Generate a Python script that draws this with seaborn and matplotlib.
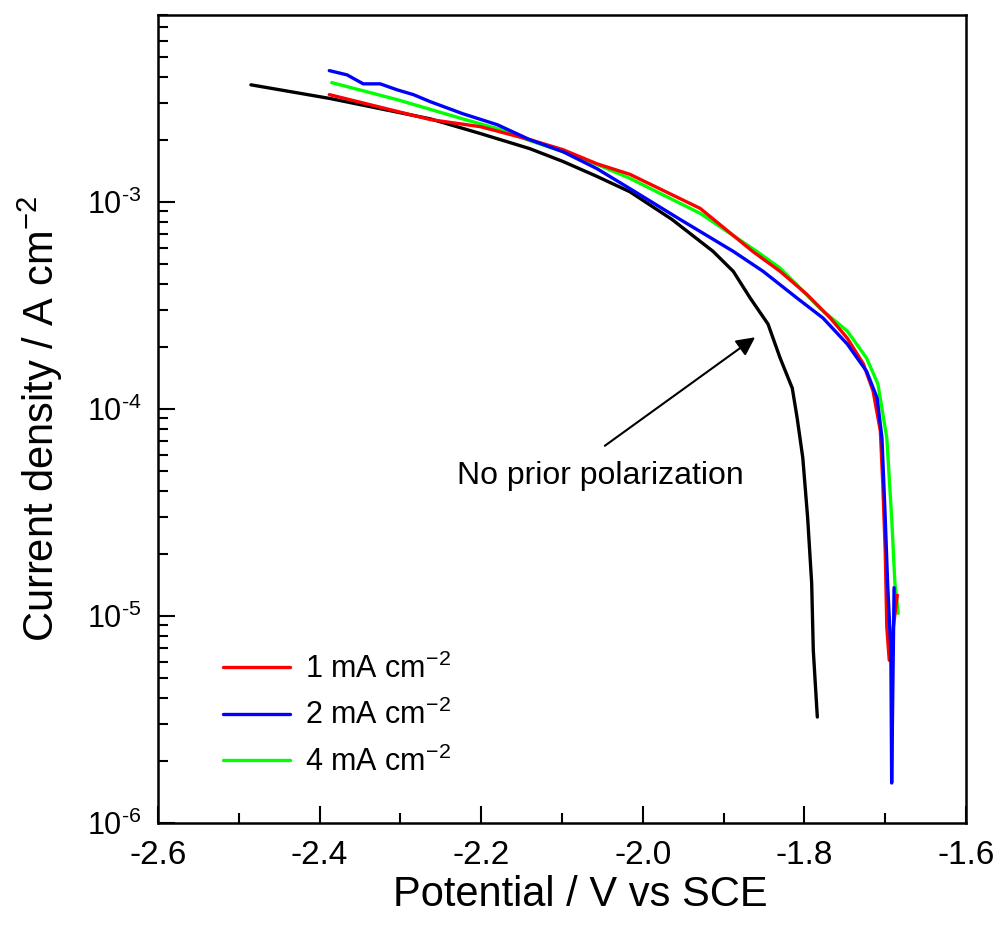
import numpy as np
import pandas as pd
import matplotlib
matplotlib.use("Agg")
import matplotlib.pyplot as plt
import matplotlib.ticker as mticker
from matplotlib import font_manager
import seaborn as sns

# ---------------- data ----------------
black_V = [-2.485, -2.387, -2.263, -2.201, -2.140, -2.099, -2.057, -2.016, -1.964, -1.913,
           -1.888, -1.867, -1.845, -1.830, -1.815, -1.809, -1.802, -1.796, -1.791, -1.789, -1.784]
black_I = [3.68e-3, 3.16e-3, 2.52e-3, 2.14e-3, 1.81e-3, 1.57e-3, 1.33e-3, 1.12e-3, 8.24e-4, 5.77e-4,
           4.62e-4, 3.43e-4, 2.57e-4, 1.76e-4, 1.26e-4, 9.06e-5, 5.81e-5, 2.99e-5, 1.44e-5, 6.83e-6, 3.25e-6]

red_V = [-2.388, -2.263, -2.201, -2.140, -2.099, -2.057, -2.016, -1.929, -1.864, -1.830, -1.797,
         -1.768, -1.747, -1.727, -1.715, -1.706, -1.703, -1.700, -1.698, -1.695, -1.685]
red_I = [3.30e-3, 2.50e-3, 2.31e-3, 2.00e-3, 1.79e-3, 1.53e-3, 1.36e-3, 9.31e-4, 5.77e-4, 4.62e-4, 3.58e-4,
         2.75e-4, 2.20e-4, 1.65e-4, 1.22e-4, 7.83e-5, 4.36e-5, 2.07e-5, 8.81e-6, 6.11e-6, 1.26e-5]

blue_V = [-2.388, -2.366, -2.346, -2.325, -2.304, -2.284, -2.263, -2.223, -2.180, -2.140, -2.099,
          -2.057, -2.016, -1.954, -1.888, -1.851, -1.809, -1.777, -1.747, -1.723, -1.710, -1.704,
          -1.700, -1.697, -1.693, -1.692, -1.689]
blue_I = [4.31e-3, 4.11e-3, 3.72e-3, 3.72e-3, 3.48e-3, 3.30e-3, 3.05e-3, 2.67e-3, 2.36e-3, 2.00e-3, 1.75e-3,
          1.45e-3, 1.16e-3, 8.24e-4, 5.77e-4, 4.62e-4, 3.43e-4, 2.75e-4, 2.06e-4, 1.52e-4, 1.13e-4, 7.24e-5,
          2.99e-5, 1.44e-5, 6.83e-6, 1.56e-6, 1.37e-5]

green_V = [-2.385, -2.304, -2.223, -2.180, -2.140, -2.099, -2.057, -2.016, -1.929, -1.859, -1.830,
           -1.781, -1.747, -1.723, -1.709, -1.698, -1.692, -1.688, -1.684]
green_I = [3.77e-3, 3.12e-3, 2.52e-3, 2.26e-3, 1.98e-3, 1.75e-3, 1.52e-3, 1.30e-3, 8.81e-4, 5.77e-4, 4.79e-4,
           3.07e-4, 2.38e-4, 1.76e-4, 1.32e-4, 7.24e-5, 2.99e-5, 1.44e-5, 1.03e-5]

series_names = ["No prior polarization", "1 mA cm$^{-2}$", "2 mA cm$^{-2}$", "4 mA cm$^{-2}$"]
series_colors = ["#000000", "#ff0000", "#0000ff", "#00ff00"]

x_ticks = [-2.6, -2.4, -2.2, -2.0, -1.8, -1.6]
y_ticks = [1e-6, 1e-5, 1e-4, 1e-3]
y_exponents = ["-6", "-5", "-4", "-3"]

# ---------------- style ----------------
sns.set_theme(style="ticks")
plt.rcParams["font.family"] = ["Liberation Sans", "DejaVu Sans"]
plt.rcParams["mathtext.fontset"] = "custom"
plt.rcParams["mathtext.rm"] = "Liberation Sans"
plt.rcParams["mathtext.it"] = "Liberation Sans:italic"
plt.rcParams["axes.unicode_minus"] = False
plt.rcParams["text.color"] = "black"
plt.rcParams["axes.labelcolor"] = "black"
plt.rcParams["xtick.color"] = "black"
plt.rcParams["ytick.color"] = "black"

avail = {f.name for f in font_manager.fontManager.ttflist}
narrow = ["Liberation Sans Narrow"] if "Liberation Sans Narrow" in avail else ["Liberation Sans"]
narrow = narrow + ["DejaVu Sans"]

frames = []
for name, V, I in zip(series_names,
                      [black_V, red_V, blue_V, green_V],
                      [black_I, red_I, blue_I, green_I]):
    frames.append(pd.DataFrame({"V": V, "I": I, "series": name}))
df = pd.concat(frames, ignore_index=True)

fig = plt.figure(figsize=(9.99, 9.34), dpi=100)
ax = fig.add_axes([158 / 999, 111 / 934, 808 / 999, 808 / 934])

palette = dict(zip(series_names, series_colors))
draw_order = [series_names[0], series_names[3], series_names[1], series_names[2]]
for name in draw_order:
    sub = df[df["series"] == name]
    sns.lineplot(data=sub, x="V", y="I", color=palette[name], sort=False, estimator=None,
                 linewidth=2.4, ax=ax, label=None if name == series_names[0] else name,
                 legend=False)

ax.set_yscale("log")
ax.set_xlim(-2.6, -1.6)
ax.set_ylim(1e-6, 8e-3)

ax.set_xticks(x_ticks)
ax.xaxis.set_minor_locator(mticker.MultipleLocator(0.1))
ax.set_xticklabels([f"{t:.1f}" for t in x_ticks], fontfamily=narrow, fontsize=24)
ax.set_yticks(y_ticks)
ax.set_yticklabels(["10$^{\\text{" + e + "}}$" for e in y_exponents], fontsize=22)
ax.yaxis.set_minor_locator(mticker.LogLocator(base=10, subs=np.arange(2, 10)))
ax.yaxis.set_minor_formatter(mticker.NullFormatter())

ax.tick_params(axis="both", which="major", direction="in", length=12, width=1.5,
               colors="black", top=False, right=False)
ax.tick_params(axis="both", which="minor", direction="in", length=7, width=1.5,
               top=False, right=False)
ax.tick_params(axis="x", which="major", pad=12)
ax.tick_params(axis="y", which="major", pad=12)

for s in ax.spines.values():
    s.set_visible(True)
    s.set_linewidth(1.8)
    s.set_color("black")

ax.set_xlabel("Potential / V vs SCE", fontfamily=narrow, fontsize=30, color="black")
ax.xaxis.set_label_coords((580 - 158) / 808, -0.064)
ax.set_ylabel("Current density / A cm$^{-2}$", fontfamily=narrow, fontsize=30, labelpad=16,
              color="black")

handles, labels = ax.get_legend_handles_labels()
order = [labels.index(n) for n in series_names[1:]]
leg = ax.legend([handles[i] for i in order], [labels[i] for i in order],
                loc="upper left", bbox_to_anchor=(0.065, 0.225),
                frameon=False, fontsize=22, handlelength=2.2, handletextpad=0.5,
                labelspacing=0.5, borderaxespad=0)
for t in leg.get_texts():
    t.set_color("black")

ax.text(-2.052, 4.75e-5, "No prior polarization", fontsize=23, ha="center", va="center",
        color="black")
ax.annotate("", xy=(-1.861, 2.22e-4), xytext=(-2.047, 6.64e-5),
            arrowprops=dict(arrowstyle="-|>", color="black", lw=1.5, mutation_scale=28,
                            shrinkA=0, shrinkB=0))

fig.savefig("out.png", dpi=100, facecolor="white")
